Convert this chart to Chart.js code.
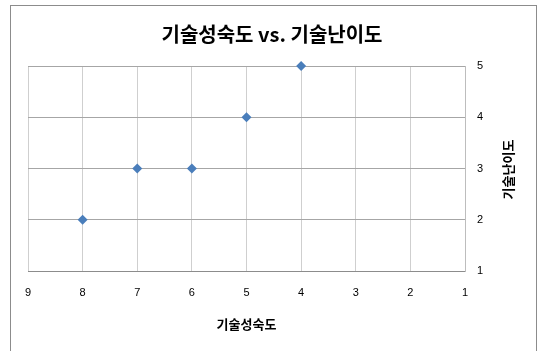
<!DOCTYPE html>
<html>
<head>
<meta charset="utf-8">
<script src="https://cdn.jsdelivr.net/npm/chart.js@4.4.0/dist/chart.umd.min.js"></script>
<style>
  html, body { margin: 0; padding: 0; background: #fff; }
  #wrap { width: 539px; height: 351px; position: relative; }
</style>
</head>
<body>
<div id="wrap"><canvas id="scatterChart"></canvas></div>
<script>
// chart data
const chartTitle = '기술성숙도 vs. 기술난이도';
const xTitle = '기술성숙도';
const yTitle = '기술난이도';
const maturity = [8, 7, 6, 5, 4];     // x values
const difficulty = [2, 3, 3, 4, 5];   // y values
const xRange = [1, 9];
const yRange = [1, 5];

const KR = "'Noto Sans CJK KR', 'Noto Sans', sans-serif";
const NUM = "'Liberation Sans', Arial, sans-serif";

// outer frame + rotated y title (right side, reads bottom to top)
const framePlugin = {
  id: 'frame',
  beforeDraw(chart) {
    const ctx = chart.ctx;
    ctx.save();
    ctx.strokeStyle = '#8c8c8c';
    ctx.lineWidth = 1;
    ctx.strokeRect(10.5, 5.5, 526, 360);
    ctx.restore();
  },
  afterDraw(chart) {
    const ctx = chart.ctx;
    const area = chart.chartArea;
    ctx.save();
    ctx.translate(508, (area.top + area.bottom) / 2 + 1);
    ctx.rotate(-Math.PI / 2);
    ctx.font = 'bold 13px ' + KR;
    ctx.fillStyle = '#000';
    ctx.textAlign = 'center';
    ctx.textBaseline = 'middle';
    ctx.fillText(yTitle, 0, 0);
    ctx.restore();
  }
};

new Chart(document.getElementById('scatterChart'), {
  type: 'scatter',
  data: {
    datasets: [{
      label: yTitle,
      data: maturity.map((x, i) => ({ x: x, y: difficulty[i] })),
      pointStyle: 'rectRot',
      pointRadius: 5,
      pointHoverRadius: 5,
      backgroundColor: '#4a7ebb',
      borderColor: '#4a7ebb',
      borderWidth: 0,
      clip: false
    }]
  },
  options: {
    responsive: true,
    maintainAspectRatio: false,
    animation: false,
    layout: {
      padding: { left: 28, right: 23, top: 0, bottom: 19 }
    },
    plugins: {
      legend: { display: false },
      tooltip: { enabled: false },
      title: {
        display: true,
        text: chartTitle,
        color: '#000',
        font: { family: KR, size: 20, weight: 'bold', lineHeight: 1.2 },
        padding: { top: 22, bottom: 20 }
      }
    },
    scales: {
      x: {
        type: 'linear',
        reverse: true,
        min: xRange[0],
        max: xRange[1],
        afterFit(scale) { scale.height = 61; },
        ticks: {
          stepSize: 1,
          color: '#000',
          padding: 15,
          font: { family: NUM, size: 11 }
        },
        grid: { color: '#cfcfcf', drawTicks: false },
        border: { color: '#8c8c8c' },
        title: {
          display: true,
          text: xTitle,
          color: '#000',
          font: { family: KR, size: 13, weight: 'bold', lineHeight: 1.2 },
          padding: { top: 10, bottom: 0 }
        }
      },
      y: {
        type: 'linear',
        position: 'right',
        min: yRange[0],
        max: yRange[1],
        afterFit(scale) { scale.width = 51; },
        ticks: {
          stepSize: 1,
          color: '#000',
          padding: 12,
          crossAlign: 'near',
          font: { family: NUM, size: 11 }
        },
        grid: { color: '#a6a6a6', drawTicks: false },
        border: { color: '#bdbdbd' }
      }
    }
  },
  plugins: [framePlugin]
});
</script>
</body>
</html>
